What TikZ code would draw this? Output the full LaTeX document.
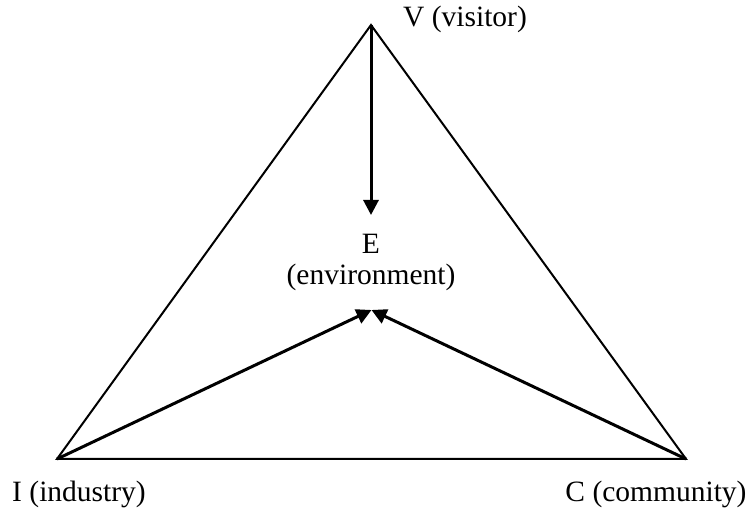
\documentclass[tikz,border=0pt]{standalone}
\usepackage{fontspec}
\setmainfont{Liberation Serif}
\usetikzlibrary{arrows.meta}
\begin{document}
\begin{tikzpicture}[x=1pt,y=1pt,
  edge/.style={line width=2pt},
  arr/.style={line width=3pt,-{Triangle[length=15pt,width=15pt]}},
  lbl/.style={font=\fontsize{29.5}{34}\selectfont, inner sep=0pt}]
\useasboundingbox (0,0) rectangle (752,516);
\coordinate (V) at (371,491);
\coordinate (I) at (57,57);
\coordinate (C) at (686,57);
\coordinate (Et) at (371,301);
\coordinate (El) at (371.5,206);
\coordinate (Er) at (371.5,206);
\draw[edge] (V) -- (I) -- (C) -- cycle;
\draw[arr] (V) -- (Et);
\draw[arr] (I) -- (El);
\draw[arr] (C) -- (Er);
\node[lbl] (vl) at (465,497) {V (visitor)};
\node[lbl] (e1) at (371,272) {E};
\node[lbl] (e2) at (371,239) {(environment)};
\node[lbl] (il) at (79,22) {I (industry)};
\node[lbl] (cl) at (656,22) {C (community)};
\end{tikzpicture}
\end{document}
